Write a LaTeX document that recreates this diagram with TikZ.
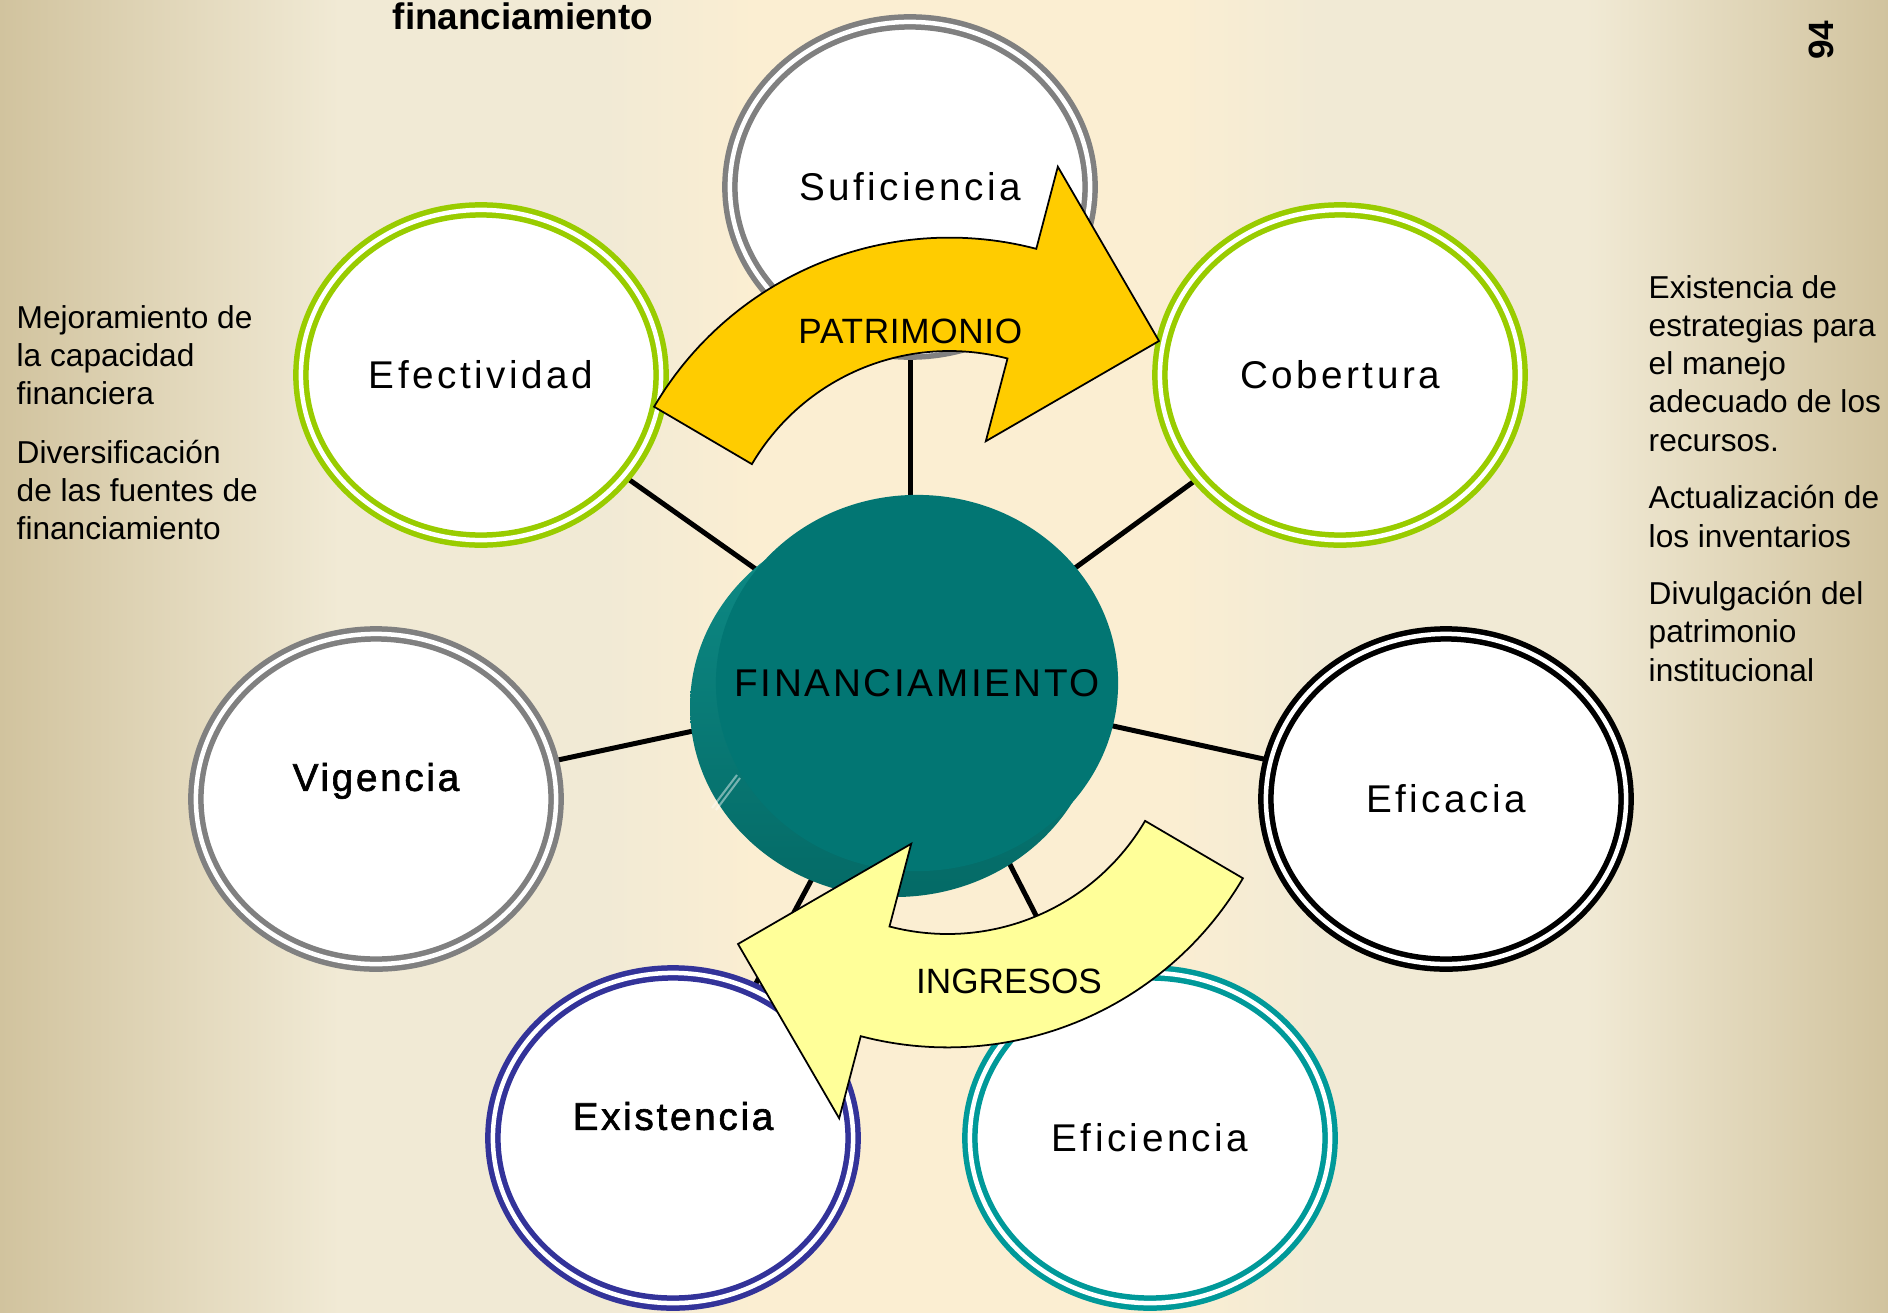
\documentclass[tikz,border=0pt]{standalone}
\usepackage{fontspec}
\setmainfont{Liberation Sans}
\newfontfamily\lblfont[LetterSpace=9]{Liberation Sans}
\newfontfamily\lblheavy[LetterSpace=7,FakeBold=1.6]{Liberation Sans}
\newfontfamily\finfont[LetterSpace=7]{Liberation Sans}
\newfontfamily\arrfont[LetterSpace=2]{Liberation Sans}
\usetikzlibrary{shapes.geometric}
\definecolor{bgtan}{RGB}{209,195,158}
\definecolor{bgcream}{RGB}{241,234,213}
\definecolor{bgpeach}{RGB}{251,238,210}
\definecolor{ringgray}{RGB}{128,128,128}
\definecolor{ringgreen}{RGB}{153,204,0}
\definecolor{ringblue}{RGB}{51,51,153}
\definecolor{ringteal}{RGB}{0,153,153}
\definecolor{diskTop}{RGB}{2,118,115}
\definecolor{diskSideA}{RGB}{14,140,135}
\definecolor{diskSideB}{RGB}{4,106,102}
\definecolor{patrCol}{RGB}{255,204,0}
\definecolor{ingrCol}{RGB}{255,255,153}
\pgfdeclarehorizontalshading{pagebg}{100bp}{color(0bp)=(bgtan); color(25bp)=(bgtan); color(34bp)=(bgcream); color(41bp)=(bgcream); color(45bp)=(bgpeach); color(56bp)=(bgpeach); color(60bp)=(bgcream); color(67bp)=(bgcream); color(75bp)=(bgtan); color(100bp)=(bgtan)}
\pgfdeclarelayer{bglayer}
\pgfdeclarelayer{links}
\pgfsetlayers{bglayer,links,main}
\begin{document}
\begin{tikzpicture}[x=0.01cm,y=-0.01cm,
  ring/.style={ellipse, draw=#1, line width=0.055cm, double=white,
    double distance=0.045cm, fill=white, minimum width=3.6cm,
    minimum height=3.3cm, inner sep=0pt,
    font={\fontsize{11pt}{13pt}\lblfont}, text height=7.9pt, text depth=0pt},
  heavylbl/.style={font={\fontsize{11pt}{13pt}\lblheavy}, text height=7.9pt,
    text depth=0pt, inner sep=0pt, yshift=0.22cm},
  link/.style={line width=0.05cm, black},
  bigarrow/.style={draw=black, line width=0.5pt, line join=miter},
  arrlbl/.style={font={\fontsize{10pt}{12pt}\arrfont}, text height=7.16pt,
    text depth=0pt, inner sep=0pt},
  note/.style={font={\fontsize{9pt}{11pt}\selectfont}, anchor=base west, inner sep=0pt}
]
\useasboundingbox (0,0) rectangle (1888,1312);
\begin{pgfonlayer}{bglayer}
  \shade[shading=pagebg] (0,0) rectangle (1888,1312);
\end{pgfonlayer}

% satellite ellipses
\node[ring=ringgray]  (suf) at (910,187)  {Suficiencia};
\node[ring=ringgreen] (efe) at (481,375)  {Efectividad};
\node[ring=ringgreen] (cob) at (1340,375) {Cobertura};
\node[ring=ringgray, label={[heavylbl]center:Vigencia}] (vig) at (376,799) {};
\node[ring=black]     (efa) at (1446,799) {Eficacia};
\node[ring=ringblue, label={[heavylbl]center:Existencia}] (exi) at (673,1138) {};
\node[ring=ringteal]  (efi) at (1150,1138) {Eficiencia};

% central disk
\shade[top color=diskSideA, bottom color=diskSideB] (895,707) ellipse [x radius=205, y radius=190];
\draw[white, opacity=0.45, line width=0.6pt] (712,808) -- (737,775);
\draw[white, opacity=0.45, line width=0.6pt] (716,810) -- (740,778);
\node[ellipse, fill=diskTop, minimum width=4.02cm, minimum height=3.76cm,
  inner sep=0pt, font={\fontsize{11pt}{13pt}\finfont}, text height=7.9pt,
  text depth=0pt] (fin) at (917,683) {\makebox[0pt]{FINANCIAMIENTO}};

% connectors
\begin{pgfonlayer}{links}
  \draw[link] (suf.center) -- (suf.center |- fin.center);
  \draw[link] (fin.center) -- (efe.center);
  \draw[link] (fin.center) -- (cob.center);
  \draw[link] (fin.center) -- (vig.center);
  \draw[link] (fin.center) -- (efa.center);
  \draw[link] (fin.center) -- (exi.center);
  \draw[link] (fin.center) -- (efi.center);
\end{pgfonlayer}

% PATRIMONIO arrow
\draw[bigarrow, fill=patrCol]
  plot[domain=210.4:284.7, samples=60] ({949.4+342.4*cos(\x)},{580+342.4*sin(\x)})
  -- ({949.4+427.3*cos(284.7)},{580+427.3*sin(284.7)})
  -- (1159,341)
  -- ({949.4+143.5*cos(284.7)},{580+143.5*sin(284.7)})
  -- plot[domain=284.7:210.4, samples=60] ({949.4+229*cos(\x)},{580+229*sin(\x)})
  -- cycle;
% INGRESOS arrow (same shape turned half round)
\begin{scope}[rotate around={180:(948.5,642.5)}]
\draw[bigarrow, fill=ingrCol]
  plot[domain=210.4:284.7, samples=60] ({949.4+342.4*cos(\x)},{580+342.4*sin(\x)})
  -- ({949.4+427.3*cos(284.7)},{580+427.3*sin(284.7)})
  -- (1159,341)
  -- ({949.4+143.5*cos(284.7)},{580+143.5*sin(284.7)})
  -- plot[domain=284.7:210.4, samples=60] ({949.4+229*cos(\x)},{580+229*sin(\x)})
  -- cycle;
\end{scope}
\node[arrlbl] (patr) at (910.4,330.5) {PATRIMONIO};
\node[arrlbl, font={\fontsize{10pt}{12pt}\selectfont}] (ingr) at (1009,980.5) {INGRESOS};

% title and page number
\node[font={\fontsize{10.5pt}{12pt}\bfseries}, anchor=base, inner sep=0pt] (title) at (523,29) {financiamiento};
\node[font={\fontsize{10pt}{12pt}\bfseries}, rotate=90, inner sep=0pt] (pg) at (1821,40) {94};

% left notes
\node[note] (l1) at (16,328.5) {Mejoramiento de};
\node[note] (l2) at (16,366.5) {la capacidad};
\node[note] (l3) at (16,404.5) {financiera};
\node[note] (l4) at (16,463) {Diversificación};
\node[note] (l5) at (16,501) {de las fuentes de};
\node[note] (l6) at (16,539) {financiamiento};

% right notes
\node[note] (r1) at (1648,298) {Existencia de};
\node[note] (r2) at (1648,336.3) {estrategias para};
\node[note] (r3) at (1648,374.6) {el manejo};
\node[note] (r4) at (1648,412.9) {adecuado de los};
\node[note] (r5) at (1648,451.2) {recursos.};
\node[note] (r6) at (1648,508.8) {Actualización de};
\node[note] (r7) at (1648,547) {los inventarios};
\node[note] (r8) at (1648,604.6) {Divulgación del};
\node[note] (r9) at (1648,642.9) {patrimonio};
\node[note] (r10) at (1648,681.2) {institucional};
\end{tikzpicture}
\end{document}
